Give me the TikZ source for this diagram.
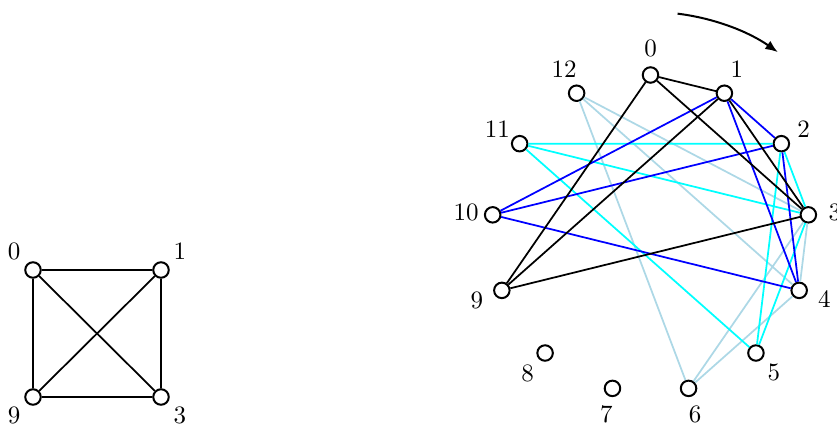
\documentclass[tikz,border=0pt]{standalone}
\usetikzlibrary{arrows.meta}
\definecolor{lblue}{RGB}{173,216,230}
\definecolor{cyanc}{RGB}{0,255,255}
\definecolor{blueb}{RGB}{0,0,255}
\begin{document}
\begin{tikzpicture}[x=0.4pt,y=-0.4pt,
  vtx/.style={circle,draw,line width=0.8pt,fill=white,minimum size=6.2pt,inner sep=0pt},
  edge/.style={line width=0.7pt},
  every label/.style={font=\normalsize,anchor=center,label distance=7.2pt}]
\useasboundingbox (0,0) rectangle (837,426);
% left K4
\node[vtx,label={135:0}] (a0) at (33,270) {};
\node[vtx,label={45:1}] (a1) at (161,270) {};
\node[vtx,label={225:9}] (a9) at (33,397) {};
\node[vtx,label={-45:3}] (a3) at (161,397) {};
\draw[edge] (a0)--(a1) (a0)--(a9) (a0)--(a3) (a1)--(a9) (a1)--(a3) (a9)--(a3);
% right circle
\foreach \k in {0,...,12}{
  \pgfmathsetmacro{\ang}{90-\k*360/13}
  \node[vtx,label={\ang:\k}] (v\k) at ({650.5+159*cos(\ang)},{234-159*sin(\ang)}) {};
}
\draw[edge,lblue] (v12)--(v3) (v12)--(v4) (v12)--(v6) (v3)--(v4) (v3)--(v6) (v4)--(v6);
\draw[edge,cyanc] (v11)--(v2) (v11)--(v3) (v11)--(v5) (v2)--(v3) (v2)--(v5) (v3)--(v5);
\draw[edge,blueb] (v1)--(v2) (v1)--(v4) (v1)--(v10) (v2)--(v10) (v2)--(v4) (v10)--(v4);
\draw[edge,black] (v0)--(v1) (v0)--(v3) (v0)--(v9) (v1)--(v9) (v1)--(v3) (v9)--(v3);
% arrow
\draw[line width=0.8pt,-{Latex[length=5pt,width=4pt]}] ([shift={(-83:222)}]650.5,234) arc[start angle=-83,end angle=-55,radius=222];
\end{tikzpicture}
\end{document}
